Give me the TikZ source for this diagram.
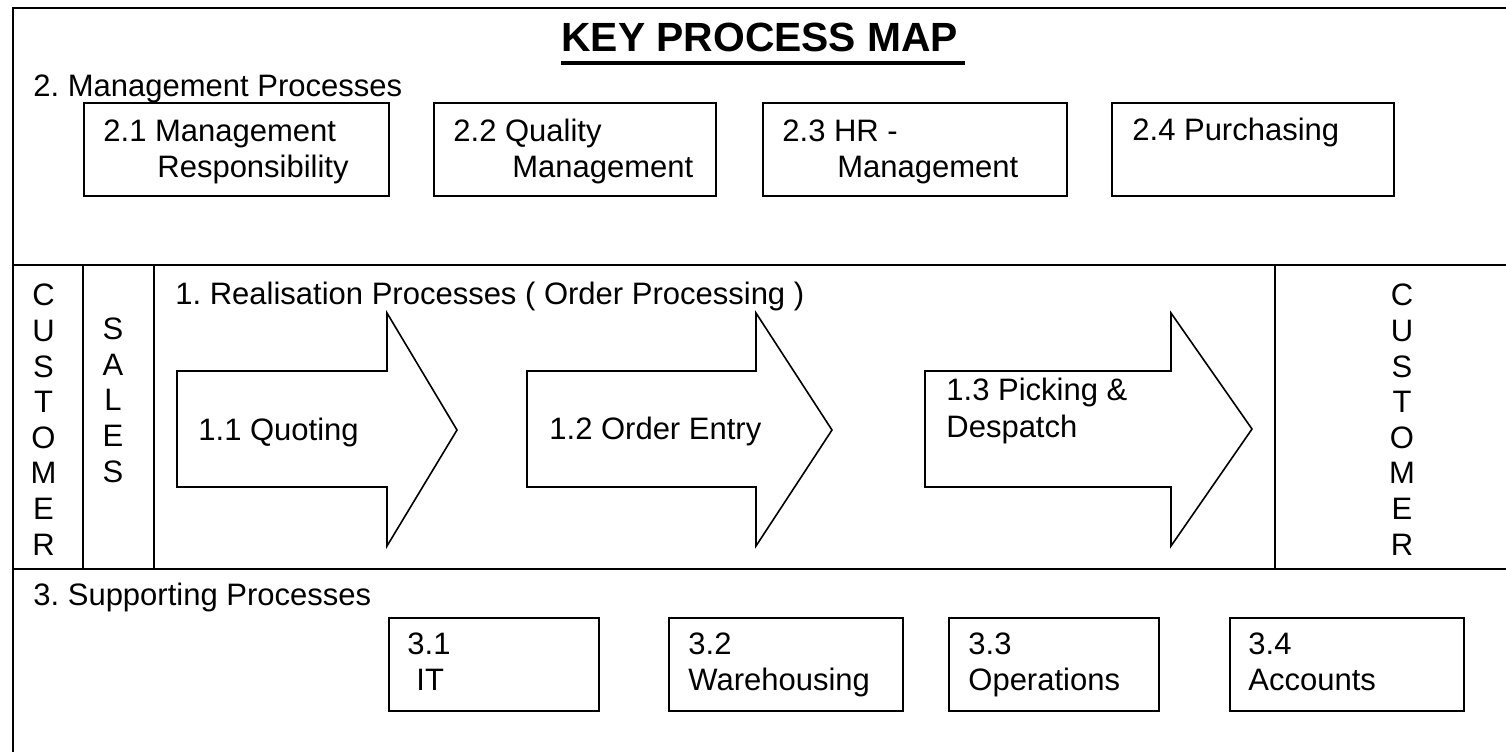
\documentclass[tikz,border=0pt]{standalone}
\usepackage{fontspec}
\setmainfont{Liberation Sans}
\frenchspacing
\newcommand{\kpmbody}{\fontsize{15.5pt}{17.8pt}\selectfont}
\newcommand{\kpmtitle}{\fontsize{20.4pt}{24pt}\selectfont\bfseries}
\begin{document}
\begin{tikzpicture}[x=0.5pt,y=-0.5pt,
  frame/.style={line width=1pt},
  procbox/.style={draw, line width=1pt, inner sep=0pt, anchor=north west},
  flowarrow/.style={draw, line width=0.8pt, fill=white, line join=miter},
  txt/.style={inner sep=0pt, anchor=base west, font=\kpmbody},
  stack/.style={inner sep=0pt, anchor=base, align=center, font=\kpmbody},
]
\useasboundingbox (0,0) rectangle (1506,751);
\clip (0,0) rectangle (1506,751);

% page frame and band dividers
\draw[frame] (13,800) -- (13,8) -- (1520,8);
\draw[frame] (13,265) -- (1520,265);
\draw[frame] (13,569) -- (1520,569);
\draw[frame] (83,265) -- (83,569);
\draw[frame] (154,265) -- (154,569);
\draw[frame] (1275,265) -- (1275,569);

% title
\node[inner sep=0pt, anchor=base west, font=\kpmtitle] (title) at (561,51) {KEY PROCESS MAP};
\draw[line width=2pt] ([yshift=-6pt]title.base west) -- ([xshift=3pt,yshift=-6pt]title.base east);

% management processes
\node[txt] (mgmt) at (33,96) {2. Management Processes};
\node[procbox, minimum width=152.5pt, minimum height=46.5pt] (b21) at (83,102) {};
\node[procbox, minimum width=141pt, minimum height=46.5pt] (b22) at (433,102) {};
\node[procbox, minimum width=152pt, minimum height=46.5pt] (b23) at (762,102) {};
\node[procbox, minimum width=141pt, minimum height=46.5pt] (b24) at (1111,102) {};
\node[txt] (t21a) at (103,141) {2.1 Management};
\node[txt] (t21b) at (157,177) {Responsibility};
\node[txt] (t22a) at (453,141) {2.2 Quality};
\node[txt] (t22b) at (512,177) {Management};
\node[txt] (t23a) at (782,141) {2.3 HR -};
\node[txt] (t23b) at (837,177) {Management};
\node[txt] (t24a) at (1132,140) {2.4 Purchasing};

% realisation processes (stacked letters: base anchor sits on the last line)
\node[stack] (custL) at (43.5,555) {C\\U\\S\\T\\O\\M\\E\\R};
\node[stack] (sales) at (113,482) {S\\A\\L\\E\\S};
\node[stack] (custR) at (1402,555) {C\\U\\S\\T\\O\\M\\E\\R};
\node[txt] (real) at (175,304) {1. Realisation Processes ( Order Processing )};

\draw[flowarrow] (177,371) -- (387,371) -- (387,313) -- (457,430) -- (387,546) -- (387,487) -- (177,487) -- cycle;
\draw[flowarrow] (527,371) -- (756,371) -- (756,313) -- (832,430) -- (756,546) -- (756,487) -- (527,487) -- cycle;
\draw[flowarrow] (925,371) -- (1171,371) -- (1171,313) -- (1252,429) -- (1171,546) -- (1171,487) -- (925,487) -- cycle;
\node[txt] (t11) at (198,440) {1.1 Quoting};
\node[txt] (t12) at (549,439) {1.2 Order Entry};
\node[txt] (t13a) at (946,400) {1.3 Picking \&};
\node[txt] (t13b) at (946,437) {Despatch};

% supporting processes
\node[txt] (supp) at (33,605) {3. Supporting Processes};
\node[procbox, minimum width=105pt, minimum height=46.5pt] (b31) at (388,617) {};
\node[procbox, minimum width=117pt, minimum height=46.5pt] (b32) at (668,617) {};
\node[procbox, minimum width=105pt, minimum height=46.5pt] (b33) at (948,617) {};
\node[procbox, minimum width=117pt, minimum height=46.5pt] (b34) at (1229,617) {};
\node[txt] (t31a) at (407,654) {3.1};
\node[txt] (t31b) at (416,690) {IT};
\node[txt] (t32a) at (688,654) {3.2};
\node[txt] (t32b) at (688,690) {Warehousing};
\node[txt] (t33a) at (968,654) {3.3};
\node[txt] (t33b) at (968,690) {Operations};
\node[txt] (t34a) at (1248,654) {3.4};
\node[txt] (t34b) at (1248,690) {Accounts};
\end{tikzpicture}
\end{document}
